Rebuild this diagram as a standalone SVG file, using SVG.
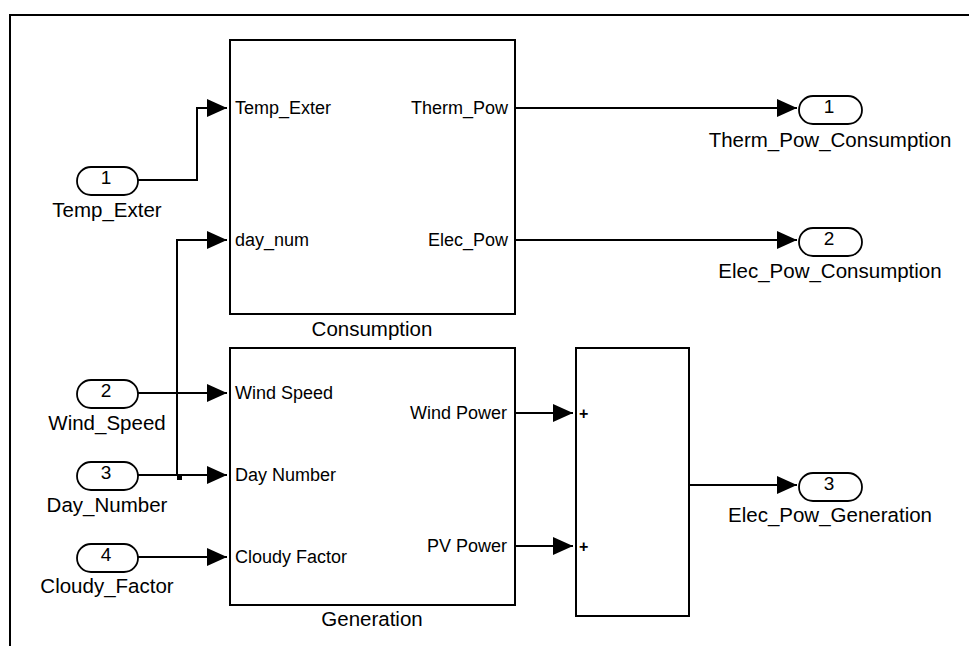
<svg xmlns="http://www.w3.org/2000/svg" width="969" height="646" viewBox="0 0 969 646">
<style>
text{font-family:"Liberation Sans",Arial,sans-serif;fill:#000}
.blk{fill:#fff;stroke:#000;stroke-width:2}
.port{fill:#fff;stroke:#000;stroke-width:1.8}
.num{font-size:19px;text-anchor:middle}
.lbl{font-size:20.5px;text-anchor:middle}
.pin{font-size:18px}
.pout{font-size:18px;text-anchor:end}
.plus{font-size:16px;font-weight:bold}
.wire{fill:none;stroke:#000;stroke-width:2}
.arr{fill:none;stroke:#000;stroke-width:2;marker-end:url(#ah)}
</style>
<defs>
<marker id="ah" viewBox="0 0 20 18" refX="20" refY="9" markerWidth="20" markerHeight="18" markerUnits="userSpaceOnUse" orient="auto">
<path d="M0,0 L20,9 L0,18 Z" fill="#000"/>
</marker>
</defs>
<rect x="0" y="0" width="969" height="646" fill="#fff"/>
<path d="M10,646 V15 H969" fill="none" stroke="#000" stroke-width="2"/>

<g id="consumption">
<rect class="blk" x="230" y="40" width="285" height="274"/>
<text class="pin" x="235" y="114">Temp_Exter</text>
<text class="pin" x="235" y="246">day_num</text>
<text class="pout" x="508" y="114">Therm_Pow</text>
<text class="pout" x="508" y="246">Elec_Pow</text>
<text class="lbl" x="372" y="336">Consumption</text>
</g>

<g id="generation">
<rect class="blk" x="230" y="348" width="285" height="257"/>
<text class="pin" x="235" y="399">Wind Speed</text>
<text class="pin" x="235" y="481">Day Number</text>
<text class="pin" x="235" y="563">Cloudy Factor</text>
<text class="pout" x="507" y="419">Wind Power</text>
<text class="pout" x="507" y="552">PV Power</text>
<text class="lbl" x="372" y="626">Generation</text>
</g>

<g id="sum">
<rect class="blk" x="576" y="348" width="113" height="268"/>
<text class="plus" x="579" y="419">+</text>
<text class="plus" x="579" y="552">+</text>
</g>

<g id="in1">
<rect class="port" x="77" y="167" width="61" height="28" rx="14" ry="14"/>
<text class="num" x="106" y="184">1</text>
<text class="lbl" x="107" y="217">Temp_Exter</text>
</g>
<g id="in2">
<rect class="port" x="77" y="380" width="61" height="28" rx="14" ry="14"/>
<text class="num" x="106" y="397">2</text>
<text class="lbl" x="107" y="430">Wind_Speed</text>
</g>
<g id="in3">
<rect class="port" x="77" y="462" width="61" height="28" rx="14" ry="14"/>
<text class="num" x="106" y="479">3</text>
<text class="lbl" x="107" y="512">Day_Number</text>
</g>
<g id="in4">
<rect class="port" x="77" y="544" width="61" height="28" rx="14" ry="14"/>
<text class="num" x="106" y="561">4</text>
<text class="lbl" x="107" y="593">Cloudy_Factor</text>
</g>

<g id="out1">
<rect class="port" x="799" y="96" width="63" height="28" rx="14" ry="14"/>
<text class="num" x="829" y="113">1</text>
<text class="lbl" x="830" y="147">Therm_Pow_Consumption</text>
</g>
<g id="out2">
<rect class="port" x="799" y="228" width="63" height="28" rx="14" ry="14"/>
<text class="num" x="829" y="245">2</text>
<text class="lbl" x="830" y="278">Elec_Pow_Consumption</text>
</g>
<g id="out3">
<rect class="port" x="799" y="473" width="63" height="28" rx="14" ry="14"/>
<text class="num" x="829" y="490">3</text>
<text class="lbl" x="830" y="522">Elec_Pow_Generation</text>
</g>

<g id="connectors">
<path class="arr" d="M138,180 H197 V108 H227"/>
<path class="arr" d="M177,475 V240 H227"/>
<path class="arr" d="M138,393 H227"/>
<path class="arr" d="M138,475 H227"/>
<path class="arr" d="M138,557 H227"/>
<rect x="177" y="475" width="5" height="5" fill="#000"/>
<path class="arr" d="M515,108 H797"/>
<path class="arr" d="M515,240 H797"/>
<path class="arr" d="M515,413 H573"/>
<path class="arr" d="M515,546 H573"/>
<path class="arr" d="M689,485 H797"/>
</g>
</svg>
